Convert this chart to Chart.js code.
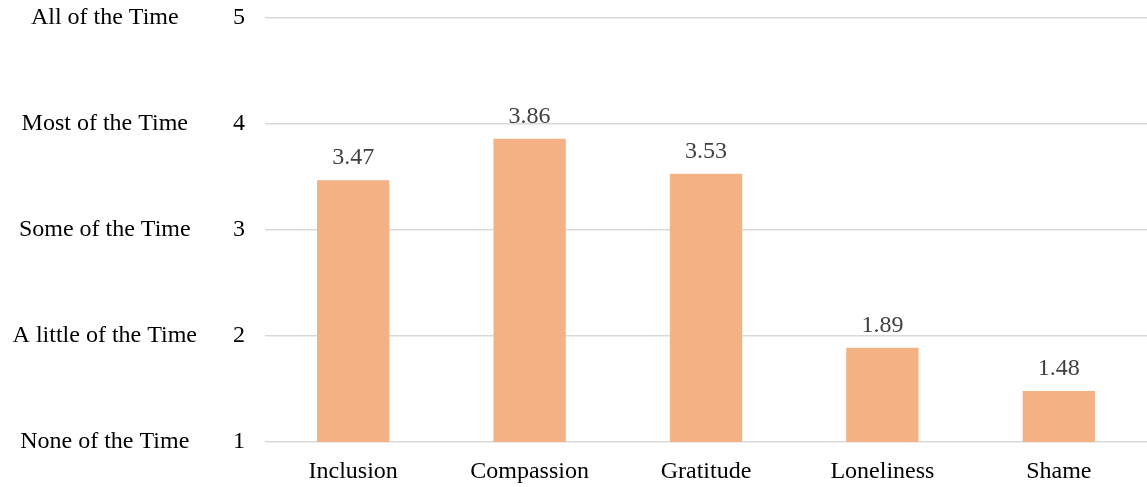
<!DOCTYPE html>
<html>
<head>
<meta charset="utf-8">
<script src="https://cdn.jsdelivr.net/npm/chart.js@4/dist/chart.umd.min.js"></script>
<style>
html,body{margin:0;padding:0;background:#fff;}
#wrap{width:1147px;height:487px;}
</style>
</head>
<body>
<div id="wrap"><canvas id="c" width="1147" height="487"></canvas></div>
<script>
const categories = ["Inclusion", "Compassion", "Gratitude", "Loneliness", "Shame"];
const meanScores = [3.47, 3.86, 3.53, 1.89, 1.48];
const tickValues = [1, 2, 3, 4, 5];
const frequencyLabels = ["None of the Time", "A little of the Time", "Some of the Time", "Most of the Time", "All of the Time"];

const FONT = "'Liberation Serif', 'Times New Roman', serif";

const valueLabels = {
  id: 'valueLabels',
  afterDatasetsDraw(chart) {
    const ctx = chart.ctx;
    const meta = chart.getDatasetMeta(0);
    ctx.save();
    ctx.font = "24px " + FONT;
    ctx.fillStyle = "#404040";
    ctx.textAlign = "center";
    ctx.textBaseline = "bottom";
    meta.data.forEach((bar, i) => {
      ctx.fillText(meanScores[i].toFixed(2), bar.x, bar.y - 10);
    });
    ctx.restore();
  }
};

function fixY(width) {
  return function (scale) {
    scale.width = width;
    scale.paddingTop = 0;
    scale.paddingBottom = 0;
  };
}

new Chart(document.getElementById('c'), {
  type: 'bar',
  data: {
    labels: categories,
    datasets: [{
      data: meanScores,
      backgroundColor: '#F4B183',
      borderWidth: 0,
      categoryPercentage: 0.82,
      barPercentage: 0.5
    }]
  },
  options: {
    responsive: false,
    animation: false,
    layout: { padding: { top: 18, right: 0, bottom: 0, left: 0 } },
    plugins: { legend: { display: false }, tooltip: { enabled: false } },
    scales: {
      x: {
        grid: { display: false },
        border: { display: false },
        afterFit(scale) { scale.height = 45; },
        ticks: { color: '#000', font: { family: FONT, size: 24 }, padding: 7 }
      },
      yText: {
        type: 'linear',
        position: 'left',
        weight: 1,
        min: 1, max: 5,
        grid: { display: false },
        border: { display: false },
        afterFit: fixY(210),
        afterBuildTicks(scale) { scale.ticks = tickValues.map(v => ({ value: v })); },
        ticks: {
          crossAlign: 'center',
          padding: 5,
          color: '#000',
          font: { family: FONT, size: 24 },
          callback: (v) => frequencyLabels[tickValues.indexOf(v)]
        }
      },
      y: {
        type: 'linear',
        position: 'left',
        weight: 0,
        min: 1, max: 5,
        grid: { color: '#d9d9d9', lineWidth: 1.5, drawTicks: false },
        border: { display: false },
        afterFit: fixY(55),
        afterBuildTicks(scale) { scale.ticks = tickValues.map(v => ({ value: v })); },
        ticks: {
          padding: 20,
          color: '#000',
          font: { family: FONT, size: 24 }
        }
      }
    }
  },
  plugins: [valueLabels]
});
</script>
</body>
</html>
